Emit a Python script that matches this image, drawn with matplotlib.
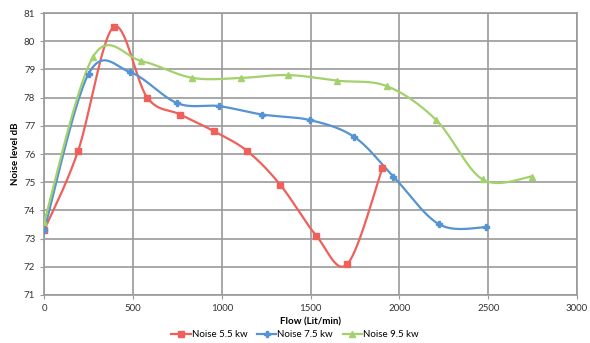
import numpy as np
import matplotlib.pyplot as plt

# values
flow_55 = [0, 190, 390, 580, 766, 958, 1144, 1330, 1532, 1707, 1904]
noise_55 = [73.3, 76.1, 80.5, 78.0, 77.4, 76.8, 76.1, 74.9, 73.1, 72.1, 75.5]

flow_75 = [0, 250, 485, 750, 983, 1228, 1499, 1747, 1966, 2225, 2485]
noise_75 = [73.3, 78.85, 78.9, 77.8, 77.7, 77.4, 77.2, 76.6, 75.2, 73.5, 73.4]

flow_95 = [0, 275, 546, 834, 1110, 1374, 1651, 1932, 2208, 2468, 2744]
noise_95 = [73.6, 79.45, 79.3, 78.7, 78.7, 78.8, 78.6, 78.4, 77.2, 75.1, 75.2]

series = [
    ("Noise 5.5 kw", flow_55, noise_55, "#F0605A", "s", 5),
    ("Noise 7.5 kw", flow_75, noise_75, "#5593D2", "P", 4),
    ("Noise 9.5 kw", flow_95, noise_95, "#A3D16B", "^", 4.5),
]


def smooth(xs, ys, n=30):
    # Excel-like smoothed line: Bezier segments, controls from neighbours / 6
    p = np.column_stack([xs, ys]).astype(float)
    out = [p[0]]
    for i in range(len(p) - 1):
        p0 = p[i - 1] if i > 0 else p[i]
        p3 = p[i + 2] if i + 2 < len(p) else p[i + 1]
        c1 = p[i] + (p[i + 1] - p0) / 6
        c2 = p[i + 1] - (p3 - p[i]) / 6
        t = np.linspace(0, 1, n)[1:, None]
        seg = ((1 - t) ** 3 * p[i] + 3 * (1 - t) ** 2 * t * c1
               + 3 * (1 - t) * t ** 2 * c2 + t ** 3 * p[i + 1])
        out.extend(seg)
    out = np.array(out)
    return out[:, 0], out[:, 1]


plt.rcParams['font.family'] = ['Lato', 'DejaVu Sans']
fig, ax = plt.subplots(figsize=(5.9, 3.43), dpi=100)
fig.subplots_adjust(left=0.075, right=0.978, top=0.962, bottom=0.14)

for label, xs, ys, color, marker, ms in series:
    sx, sy = smooth(xs, ys)
    ax.plot(sx, sy, color=color, lw=1.6, zorder=3)
    ax.plot(xs, ys, ls="none", marker=marker, color=color, ms=ms, zorder=4)
    ax.plot([], [], color=color, marker=marker, ms=ms, lw=1.6, label=label)

ax.set_xlim(0, 3000)
ax.set_ylim(71, 81)
ax.set_xticks(range(0, 3001, 500))
ax.set_yticks(range(71, 82))
ax.grid(True, color="#9a9a9a", lw=1.2)
ax.set_axisbelow(True)
for s in ax.spines.values():
    s.set_color("#9a9a9a")
    s.set_linewidth(1.2)
ax.tick_params(labelsize=7, color="#9a9a9a", length=3, labelcolor="#333333")

ax.set_xlabel("Flow (Lit/min)", fontsize=7, fontweight="bold", labelpad=3)
ax.set_ylabel("Noise level dB", fontsize=7, fontweight="bold", labelpad=3)

fig.legend(loc="center", bbox_to_anchor=(0.5, 0.025), ncol=3, frameon=False,
           fontsize=7, handlelength=2.0, handletextpad=0.1, columnspacing=1.0)

fig.savefig("out.png", dpi=100)
